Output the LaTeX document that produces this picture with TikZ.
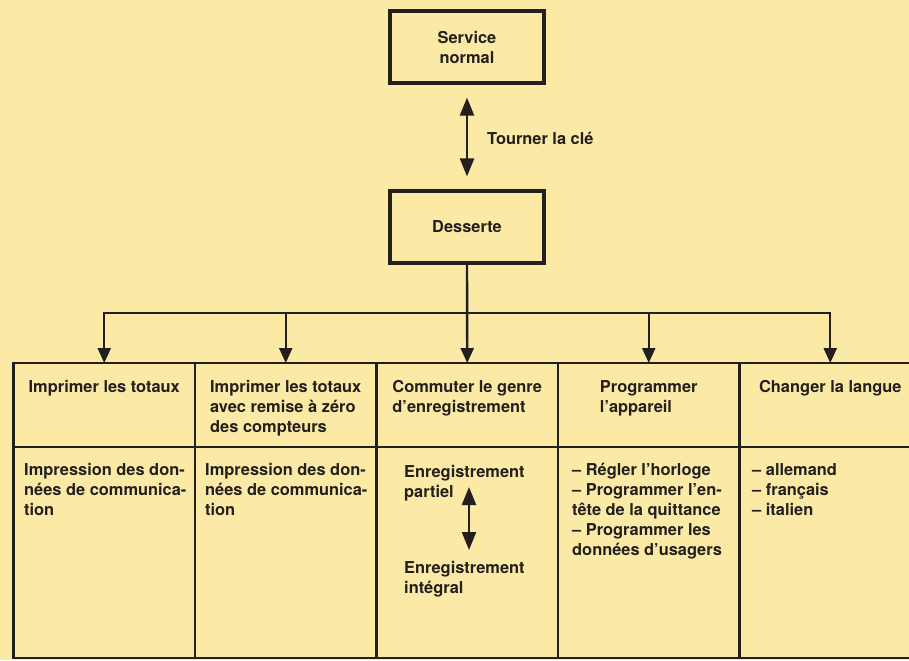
\documentclass[tikz,border=0pt]{standalone}
\usepackage{fontspec}
\setmainfont{TeX Gyre Heros}
\usetikzlibrary{arrows.meta, positioning}
\definecolor{paper}{RGB}{251,233,166}
\definecolor{ink}{RGB}{35,31,28}

\begin{document}
\begin{tikzpicture}[x=0.5pt, y=-0.5pt, ink, line width=1.2pt,
		>={Triangle[length=9pt,width=7pt]},
		down/.style={-{Triangle[length=7.5pt,width=6.5pt]}},
		font=\fontsize{8.2}{10}\selectfont\bfseries,
		box/.style={draw, line width=1.6pt, minimum width=77pt, minimum height=36pt, align=center, inner sep=0pt},
		cell/.style={draw, line width=1.2pt, minimum width=90.75pt, inner sep=0pt, outer sep=0pt},
		txt/.style={align=left, inner sep=0pt}]
		\fill[paper] (0,0) rectangle (909,660);
		\clip (0,0) rectangle (909,660);
		
		\node[box] (sn) at (467,47) {Service\\normal};
		\node[box] (ds) at (467,227) {Desserte};
		\draw[<->, shorten <=6.5pt, shorten >=6.5pt] (sn.south) -- (ds.north);
		\node[txt, anchor=west] (tc) at (486,138) {Tourner la clé};
		
		\node[cell, minimum height=42pt, anchor=north west] (h1) at (13.5,363) {};
		\node[cell, minimum height=42pt, right=0pt of h1] (h2) {};
		\node[cell, minimum height=42pt, right=0pt of h2] (h3) {};
		\node[cell, minimum height=42pt, right=0pt of h3] (h4) {};
		\node[cell, minimum height=42pt, right=0pt of h4] (h5) {};
		
		\node[cell, minimum height=105.5pt, below=0pt of h1] (b1) {};
		\node[cell, minimum height=105.5pt, below=0pt of h2] (b2) {};
		\node[cell, minimum height=105.5pt, below=0pt of h3] (b3) {};
		\node[cell, minimum height=105.5pt, below=0pt of h4] (b4) {};
		\node[cell, minimum height=105.5pt, below=0pt of h5] (b5) {};
		
		\coordinate (bus) at (467,313);
		\draw[down] (ds.south) -- (h3.north);
		\draw[down] (bus) -| (h1.north);
		\draw[down] (bus) -| (h2.north);
		\draw[down] (bus) -| (h4.north);
		\draw[down] (bus) -| (h5.north);
		
		\node[txt, below=8pt of h1.north] (t1) {Imprimer les totaux};
		\node[txt, below=8pt of h2.north] (t2) {Imprimer les totaux\\avec remise à zéro\\des compteurs};
		\node[txt, below=8pt of h3.north] (t3) {Commuter le genre\\d’enregistrement};
		\node[txt, below=8pt of h4.north] (t4) {Programmer\\l’appareil};
		\node[txt, below=8pt of h5.north] (t5) {Changer la langue};
		
		\node[txt, anchor=north west] (s1) at (23,462) {Impression des don-\\nées de communica-\\tion};
		\node[txt, anchor=north west] (s2) at (204,462) {Impression des don-\\nées de communica-\\tion};
		\node[txt, anchor=north west] (s3) at (403,464) {Enregistrement\\partiel};
		\node[txt, anchor=north west] (s3b) at (403,560) {Enregistrement\\intégral};
		\node[txt, anchor=north west] (s4) at (571,462) {– Régler l’horloge\\– Programmer l’en-\\tête de la quittance\\– Programmer les\\données d’usagers};
		\node[txt, anchor=north west] (s5) at (751,462) {– allemand\\– français\\– italien};
		
		\coordinate (p) at (469,487);
		\coordinate (q) at (469,550);
		\draw[<->] (p) -- (q);
	\end{tikzpicture}
\end{document}
